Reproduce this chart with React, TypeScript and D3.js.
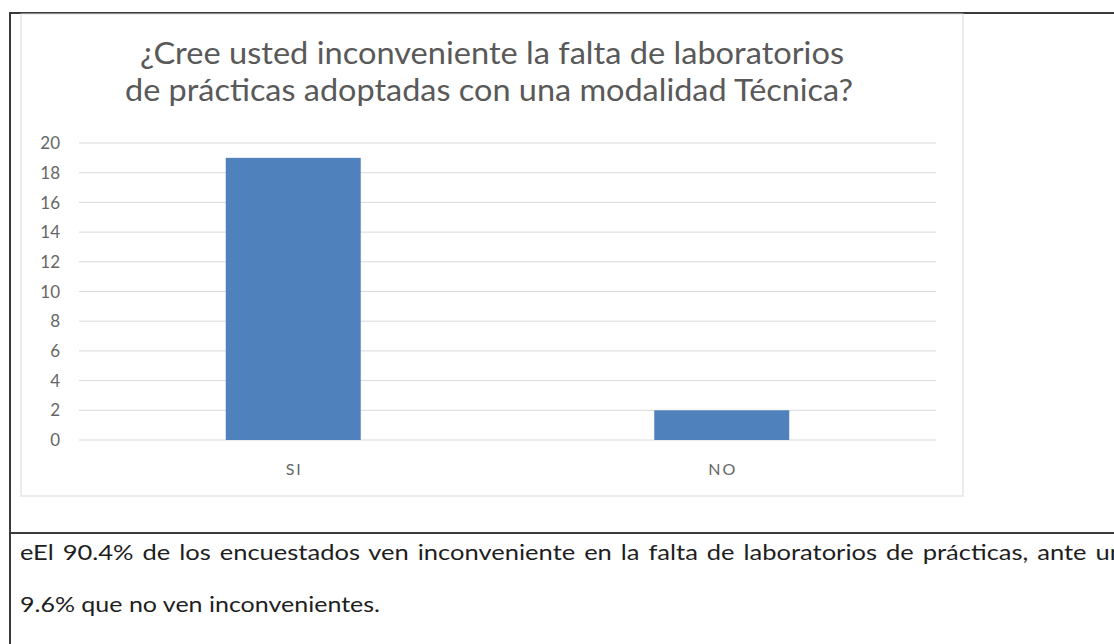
import React from "react";
import * as d3 from "d3";

const categories = ["SI", "NO"];
const values = [19, 2];
const yTicks = [0, 2, 4, 6, 8, 10, 12, 14, 16, 18, 20];
const titleLines = [
  "¿Cree usted inconveniente la falta de laboratorios",
  "de prácticas adoptadas con una modalidad Técnica?",
];
const noteLines = [
  "eEl 90.4% de los encuestados ven inconveniente en la falta de laboratorios de prácticas, ante un",
  "9.6% que no ven inconvenientes.",
];

const W = 1114;
const H = 644;

export default function App() {
  const plotLeft = 79;
  const plotRight = 936;
  const plotTop = 143;
  const plotBottom = 440;
  const x = d3.scaleBand<string>().domain(categories).range([plotLeft, plotRight]).padding(0);
  const y = d3.scaleLinear().domain([0, 20]).range([plotBottom, plotTop]);
  const barW = x.bandwidth() * 0.315;
  const font = "Lato, 'Open Sans', sans-serif";

  const titleGeom = [
    { cx: 492, len: 704, y: 64 },
    { cx: 489, len: 728, y: 101 },
  ];
  const noteGeom = [
    { len: 1104, y: 560, ws: 2 },
    { len: 360, y: 612, ws: 0 },
  ];

  return (
    <svg
      width={W}
      height={H}
      style={{ position: "absolute", left: 0, top: 0, background: "#fff" }}
    >
      {/* outer table borders */}
      <line x1={10} y1={13} x2={W} y2={13} stroke="#3a3a3a" strokeWidth={2} />
      <line x1={10} y1={12} x2={10} y2={H} stroke="#3a3a3a" strokeWidth={2} />
      <line x1={10} y1={533} x2={W} y2={533} stroke="#3a3a3a" strokeWidth={2} />

      {/* chart area box */}
      <rect x={21} y={14} width={942} height={482} fill="#fff" stroke="#d9d9d9" strokeWidth={1} />

      {/* title */}
      {titleLines.map((t, i) => (
        <text
          key={i}
          x={titleGeom[i].cx - titleGeom[i].len / 2}
          y={titleGeom[i].y}
          textLength={titleGeom[i].len}
          lengthAdjust="spacingAndGlyphs"
          fontFamily={font}
          fontSize={30}
          fill="#595959"
        >
          {t}
        </text>
      ))}

      {/* gridlines */}
      {yTicks.map((t) => (
        <line
          key={t}
          x1={plotLeft}
          x2={plotRight}
          y1={y(t)}
          y2={y(t)}
          stroke="#d9d9d9"
          strokeWidth={1}
        />
      ))}
      {yTicks.map((t) => (
        <text
          key={t}
          x={60}
          y={y(t)}
          dy="0.36em"
          textAnchor="end"
          fontFamily={font}
          fontSize={17}
          fill="#666"
        >
          {t}
        </text>
      ))}

      {/* bars */}
      {categories.map((c, i) => {
        const cx = (x(c) as number) + x.bandwidth() / 2;
        return (
          <rect
            key={c}
            x={cx - barW / 2}
            y={y(values[i])}
            width={barW}
            height={y(0) - y(values[i])}
            fill="#4f81bd"
          />
        );
      })}

      {/* category labels */}
      {categories.map((c) => (
        <text
          key={c}
          x={(x(c) as number) + x.bandwidth() / 2 + 1}
          y={475}
          textAnchor="middle"
          fontFamily={font}
          fontSize={16}
          letterSpacing={2}
          fill="#666"
        >
          {c}
        </text>
      ))}

      {/* note */}
      {noteLines.map((t, i) => (
        <text
          key={i}
          x={20}
          y={noteGeom[i].y}
          textLength={noteGeom[i].len}
          lengthAdjust="spacingAndGlyphs"
          style={{ wordSpacing: noteGeom[i].ws }}
          fontFamily={font}
          fontSize={21}
          fill="#1e1e1e"
        >
          {t}
        </text>
      ))}
    </svg>
  );
}
